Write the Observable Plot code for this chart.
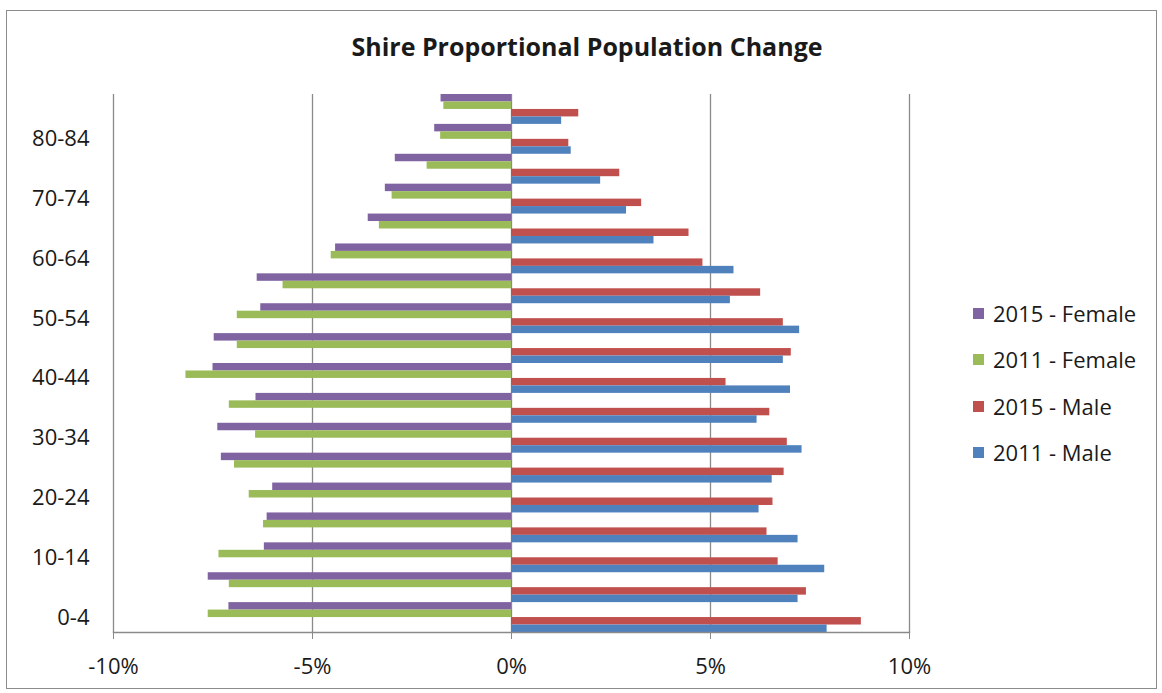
<!DOCTYPE html>
<html>
<head>
<meta charset="utf-8">
<script src="https://cdn.jsdelivr.net/npm/d3@7"></script>
<script src="https://cdn.jsdelivr.net/npm/@observablehq/plot@0.6"></script>
<style>
  body { margin: 0; background: #fff; font-family: "Open Sans", sans-serif; }
  #chart { position: relative; width: 1162px; height: 693px; overflow: hidden; background: #fff; }
  #border { position: absolute; left: 6px; top: 10px; width: 1151px; height: 679px; border: 1.5px solid #8c8c8c; box-sizing: border-box; }
  #title { position: absolute; left: 0; width: 1174px; top: 34px; text-align: center; font-weight: 700; font-size: 25px; line-height: 25px; color: #1a1a1a; }
  #plot { position: absolute; left: 0; top: 0; }
  #legend { position: absolute; left: 973px; top: 0; }
  .item { position: absolute; left: 0; height: 22px; display: flex; align-items: center; white-space: nowrap; font-size: 22px; line-height: 22px; color: #1a1a1a; }
  .sw { width: 11px; height: 11px; margin-right: 9px; }
</style>
</head>
<body>
<div id="chart">
  <div id="border"></div>
  <div id="title">Shire Proportional Population Change</div>
  <div id="plot"></div>
  <div id="legend"></div>
</div>
<script>
// Age groups (bottom to top)
const ages = ["0-4","5-9","10-14","15-19","20-24","25-29","30-34","35-39","40-44","45-49","50-54","55-59","60-64","65-69","70-74","75-79","80-84","85+"];
// Shown y tick labels
const ageLabels = ["0-4","10-14","20-24","30-34","40-44","50-54","60-64","70-74","80-84"];
// Series names (top-to-bottom within each age group)
const seriesNames = ["2015 - Female","2011 - Female","2015 - Male","2011 - Male"];
const seriesColors = ["#8064A2","#9BBB59","#C0504D","#4F81BD"];
// Values in percent (female negative)
const female2015 = [-7.10,-7.62,-6.21,-6.14,-6.00,-7.29,-7.38,-6.42,-7.50,-7.47,-6.30,-6.39,-4.42,-3.60,-3.17,-2.92,-1.93,-1.77];
const female2011 = [-7.62,-7.09,-7.35,-6.23,-6.59,-6.96,-6.43,-7.09,-8.18,-6.89,-6.89,-5.74,-4.53,-3.32,-3.00,-2.12,-1.78,-1.70];
const male2015   = [ 8.79, 7.41, 6.70, 6.42, 6.57, 6.85, 6.93, 6.49, 5.39, 7.03, 6.83, 6.26, 4.81, 4.46, 3.27, 2.72, 1.44, 1.69];
const male2011   = [ 7.93, 7.20, 7.87, 7.20, 6.22, 6.55, 7.30, 6.17, 7.01, 6.83, 7.24, 5.50, 5.59, 3.58, 2.89, 2.24, 1.50, 1.26];
// X tick values
const xTicks = [-10,-5,0,5,10];

const seriesValues = [female2015, female2011, male2015, male2011];

const W = 1162, H = 693, mT = 94, mB = 61, mL = 113, mR = 253;
const band = (H - mT - mB) / ages.length;
const sub = band / seriesNames.length;

const barMarks = seriesNames.map((name, k) => {
  const rows = ages.map((a, i) => ({age: a, series: name, value: seriesValues[k][i]}));
  return Plot.barX(rows, {
    x1: () => 0,
    x2: "value",
    y: "age",
    fill: seriesColors[k],
    insetTop: k * sub,
    insetBottom: (seriesNames.length - 1 - k) * sub
  });
});

const chart = Plot.plot({
  width: W, height: H,
  marginTop: mT, marginBottom: mB, marginLeft: mL, marginRight: mR,
  style: {fontFamily: "'Open Sans', sans-serif", background: "transparent", color: "#1a1a1a"},
  x: {domain: [-10, 10], axis: null},
  y: {domain: ages.slice().reverse(), padding: 0, round: false, axis: null},
  marks: [
    Plot.ruleX(xTicks, {stroke: "#8a8a8a", strokeWidth: 1.3}),
    ...barMarks,
    Plot.frame({anchor: "bottom", stroke: "#8a8a8a", strokeWidth: 1.5}),
    Plot.axisX(xTicks, {tickSize: 7, tickPadding: 19, tickFormat: d => d + "%", fontSize: 22, stroke: "#8a8a8a", fill: "#1a1a1a", label: null}),
    Plot.axisY(ageLabels, {tickSize: 0, tickPadding: 24, fontSize: 22, fill: "#1a1a1a", label: null})
  ]
});
document.getElementById("plot").appendChild(chart);

// Legend
const legendCenters = [313, 359, 406, 452];
const legend = document.getElementById("legend");
seriesNames.forEach((name, k) => {
  const item = document.createElement("div");
  item.className = "item";
  item.style.top = (legendCenters[k] - 11) + "px";
  const sw = document.createElement("span");
  sw.className = "sw";
  sw.style.background = seriesColors[k];
  const t = document.createElement("span");
  t.textContent = name;
  item.appendChild(sw);
  item.appendChild(t);
  legend.appendChild(item);
});
</script>
</body>
</html>
